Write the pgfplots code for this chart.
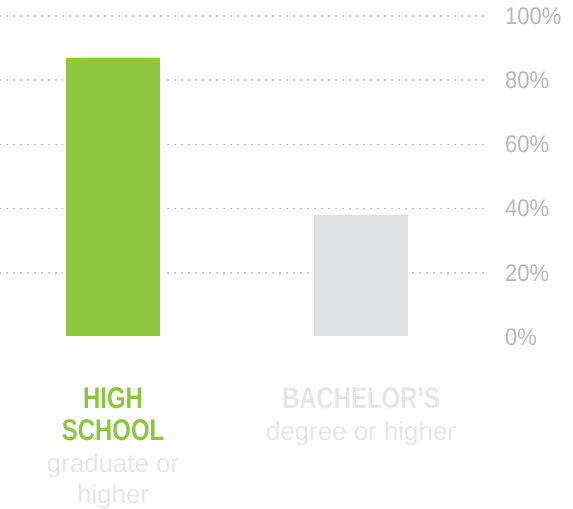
\documentclass[border=0pt]{standalone}
\usepackage{fontspec}
\setmainfont{Liberation Sans}
\newfontfamily\condfont{Liberation Sans}[FakeStretch=0.8]
\newfontfamily\tickfont{Liberation Sans}[FakeStretch=0.92]
\usepackage{pgfplots}
\pgfplotsset{compat=1.18}
\definecolor{hsgreen}{HTML}{8DC63F}
\definecolor{bargrey}{HTML}{E0E1E2}
\definecolor{labgrey}{HTML}{E6E7E8}
\definecolor{tickgrey}{HTML}{B8B8B8}
\definecolor{gridgrey}{HTML}{A0A0A0}
\newcommand{\cat}[1]{{\condfont\bfseries\fontsize{30}{32}\selectfont #1}}

\begin{document}
\begin{tikzpicture}
\begin{axis}[
  scale only axis,
  width=490bp, height=321bp,
  xmin=-0.456, xmax=1.52,
  ymin=0, ymax=100,
  axis line style={draw=none},
  major tick style={draw=none},
  minor tick style={draw=none},
  ybar, bar width=97bp,
  xtick={0,1},
  xticklabels={
    {\color{hsgreen}\cat{HIGH}\\\color{hsgreen}\cat{SCHOOL}\\\color{labgrey}graduate or\\\color{labgrey}higher},
    {\color{labgrey}\cat{BACHELOR’S}\\\color{labgrey}degree or higher}},
  xticklabel style={anchor=north, align=center, inner sep=0pt, yshift=-46bp,
    font=\fontsize{26}{32}\selectfont},
  ytick={0,20,40,60,80,100},
  yticklabels={0\%,20\%,40\%,60\%,80\%,100\%},
  yticklabel pos=right,
  yticklabel style={anchor=west, inner sep=0pt, xshift=15bp,
    font=\fontsize{24}{24}\tickfont, text=tickgrey},
  extra y ticks={20,40,60,80,100},
  extra y tick labels={},
  extra y tick style={ymajorgrids=true,
    grid style={gridgrey, line width=1.6bp, line cap=round, dash pattern=on 0.1bp off 6.9bp}},
]
\addplot[fill=hsgreen, draw=white, line width=3bp, bar shift=0pt] coordinates {(0,87.5)};
\addplot[fill=bargrey, draw=white, line width=3bp, bar shift=0pt] coordinates {(1,38.5)};
\end{axis}
\pgfresetboundingbox
\path[use as bounding box] ([yshift=-172bp]current axis.south west) rectangle ([xshift=83bp,yshift=16bp]current axis.north east);
\end{tikzpicture}
\end{document}
